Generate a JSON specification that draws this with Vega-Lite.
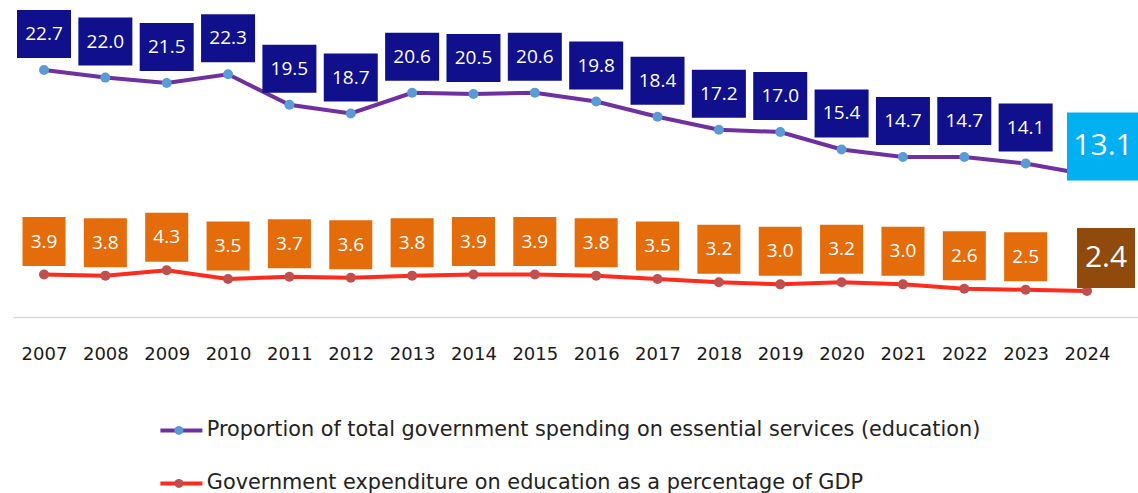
{
  "$schema": "https://vega.github.io/schema/vega-lite/v6.json",
  "width": 1125,
  "height": 317,
  "padding": {"left": 13, "top": 0, "right": 0, "bottom": 0},
  "background": "white",
  "config": {"view": {"stroke": null}, "font": "Open Sans"},
  "datasets": {
    "d": [
      {"year": 2007, "series": "Proportion of total government spending on essential services (education)", "value": 22.7},
      {"year": 2008, "series": "Proportion of total government spending on essential services (education)", "value": 22.0},
      {"year": 2009, "series": "Proportion of total government spending on essential services (education)", "value": 21.5},
      {"year": 2010, "series": "Proportion of total government spending on essential services (education)", "value": 22.3},
      {"year": 2011, "series": "Proportion of total government spending on essential services (education)", "value": 19.5},
      {"year": 2012, "series": "Proportion of total government spending on essential services (education)", "value": 18.7},
      {"year": 2013, "series": "Proportion of total government spending on essential services (education)", "value": 20.6},
      {"year": 2014, "series": "Proportion of total government spending on essential services (education)", "value": 20.5},
      {"year": 2015, "series": "Proportion of total government spending on essential services (education)", "value": 20.6},
      {"year": 2016, "series": "Proportion of total government spending on essential services (education)", "value": 19.8},
      {"year": 2017, "series": "Proportion of total government spending on essential services (education)", "value": 18.4},
      {"year": 2018, "series": "Proportion of total government spending on essential services (education)", "value": 17.2},
      {"year": 2019, "series": "Proportion of total government spending on essential services (education)", "value": 17.0},
      {"year": 2020, "series": "Proportion of total government spending on essential services (education)", "value": 15.4},
      {"year": 2021, "series": "Proportion of total government spending on essential services (education)", "value": 14.7},
      {"year": 2022, "series": "Proportion of total government spending on essential services (education)", "value": 14.7},
      {"year": 2023, "series": "Proportion of total government spending on essential services (education)", "value": 14.1},
      {"year": 2024, "series": "Proportion of total government spending on essential services (education)", "value": 13.1},
      {"year": 2007, "series": "Government expenditure on education as a percentage of GDP", "value": 3.9},
      {"year": 2008, "series": "Government expenditure on education as a percentage of GDP", "value": 3.8},
      {"year": 2009, "series": "Government expenditure on education as a percentage of GDP", "value": 4.3},
      {"year": 2010, "series": "Government expenditure on education as a percentage of GDP", "value": 3.5},
      {"year": 2011, "series": "Government expenditure on education as a percentage of GDP", "value": 3.7},
      {"year": 2012, "series": "Government expenditure on education as a percentage of GDP", "value": 3.6},
      {"year": 2013, "series": "Government expenditure on education as a percentage of GDP", "value": 3.8},
      {"year": 2014, "series": "Government expenditure on education as a percentage of GDP", "value": 3.9},
      {"year": 2015, "series": "Government expenditure on education as a percentage of GDP", "value": 3.9},
      {"year": 2016, "series": "Government expenditure on education as a percentage of GDP", "value": 3.8},
      {"year": 2017, "series": "Government expenditure on education as a percentage of GDP", "value": 3.5},
      {"year": 2018, "series": "Government expenditure on education as a percentage of GDP", "value": 3.2},
      {"year": 2019, "series": "Government expenditure on education as a percentage of GDP", "value": 3.0},
      {"year": 2020, "series": "Government expenditure on education as a percentage of GDP", "value": 3.2},
      {"year": 2021, "series": "Government expenditure on education as a percentage of GDP", "value": 3.0},
      {"year": 2022, "series": "Government expenditure on education as a percentage of GDP", "value": 2.6},
      {"year": 2023, "series": "Government expenditure on education as a percentage of GDP", "value": 2.5},
      {"year": 2024, "series": "Government expenditure on education as a percentage of GDP", "value": 2.4}
    ]
  },
  "data": {"name": "d"},
  "encoding": {
    "x": {
      "field": "year",
      "type": "quantitative",
      "scale": {"domain": [2006.4947, 2024.8313], "nice": false, "zero": false},
      "axis": {
        "title": null,
        "values": [2007, 2008, 2009, 2010, 2011, 2012, 2013, 2014, 2015, 2016, 2017, 2018, 2019, 2020, 2021, 2022, 2023, 2024],
        "format": "d",
        "grid": false,
        "ticks": false,
        "domainColor": "#d9d9d9",
        "domainWidth": 1.5,
        "labelFontSize": 18,
        "labelColor": "#1a1a1a",
        "labelPadding": 28,
        "labelFont": "DejaVu Sans"
      }
    },
    "y": {
      "field": "value",
      "type": "quantitative",
      "scale": {"domain": [0, 29.13], "nice": false, "zero": false},
      "axis": null
    }
  },
  "layer": [
    {
      "mark": {"type": "line", "strokeWidth": 4},
      "encoding": {
        "stroke": {
          "field": "series",
          "type": "nominal",
          "scale": {
            "domain": ["Proportion of total government spending on essential services (education)", "Government expenditure on education as a percentage of GDP"],
            "range": ["#7030a0", "#ff2b1c"]
          },
          "legend": {
            "title": null, "orient": "none", "legendX": 158, "legendY": 420, "direction": "vertical",
            "symbolType": "M-3,0H3",
            "symbolSize": 196, "symbolStrokeWidth": 4, "labelFontSize": 20.8, "labelColor": "#222222",
            "labelOffset": 15, "rowPadding": 31, "padding": 0, "labelLimit": 1000, "labelFont": "DejaVu Sans"
          }
        }
      }
    },
    {
      "mark": {"type": "point", "filled": true, "opacity": 1, "size": 100, "shape": "circle", "strokeWidth": 0},
      "encoding": {
        "fill": {
          "field": "series",
          "type": "nominal",
          "sort": "descending",
          "scale": {"range": ["#5b9bd5", "#c0504d"]},
          "legend": {
            "title": null, "orient": "none", "legendX": 155.5, "legendY": 420, "direction": "vertical",
            "symbolType": "circle", "labelExpr": "''",
            "symbolSize": 81, "symbolStrokeWidth": 0, "labelFontSize": 20.8, "labelOpacity": 0,
            "labelOffset": 10, "rowPadding": 31, "padding": 0, "labelLimit": 1000, "labelFont": "DejaVu Sans"
          }
        }
      }
    },
    {
      "transform": [{"filter": "datum.series[0] == 'P' && datum.year < 2024"}],
      "mark": {"type": "point", "filled": true, "opacity": 1, "fill": "#10108c", "strokeWidth": 0, "size": 2916, "shape": "M-1,-0.889H1V0.889H-1Z", "yOffset": -36}
    },
    {
      "transform": [{"filter": "datum.series[0] == 'P' && datum.year < 2024"}],
      "mark": {"type": "text", "color": "white", "fontSize": 19, "baseline": "middle", "align": "center", "yOffset": -36, "font": "Open Sans"},
      "encoding": {"text": {"field": "value", "type": "quantitative", "format": ".1f"}}
    },
    {
      "transform": [{"filter": "datum.series[0] == 'G' && datum.year < 2024"}],
      "mark": {"type": "point", "filled": true, "opacity": 1, "fill": "#e46c0a", "strokeWidth": 0, "size": 2401, "shape": "M-0.878,-1H0.878V1H-0.878Z", "yOffset": -33}
    },
    {
      "transform": [{"filter": "datum.series[0] == 'G' && datum.year < 2024"}],
      "mark": {"type": "text", "color": "white", "fontSize": 19, "baseline": "middle", "align": "center", "yOffset": -33, "font": "Open Sans"},
      "encoding": {"text": {"field": "value", "type": "quantitative", "format": ".1f"}}
    },
    {
      "transform": [{"filter": "datum.series[0] == 'P' && datum.year == 2024"}],
      "mark": {"type": "point", "filled": true, "opacity": 1, "fill": "#00b0f0", "strokeWidth": 0, "size": 5184, "shape": "M-1,-0.944H1V0.944H-1Z", "xOffset": 16, "yOffset": -28}
    },
    {
      "transform": [{"filter": "datum.series[0] == 'P' && datum.year == 2024"}],
      "mark": {"type": "text", "color": "white", "fontSize": 30, "baseline": "middle", "align": "center", "xOffset": 16, "yOffset": -28, "font": "Open Sans"},
      "encoding": {"text": {"field": "value", "type": "quantitative", "format": ".1f"}}
    },
    {
      "transform": [{"filter": "datum.series[0] == 'G' && datum.year == 2024"}],
      "mark": {"type": "point", "filled": true, "opacity": 1, "fill": "#8f4a0c", "strokeWidth": 0, "size": 3600, "shape": "M-0.967,-1H0.967V1H-0.967Z", "xOffset": 19, "yOffset": -33}
    },
    {
      "transform": [{"filter": "datum.series[0] == 'G' && datum.year == 2024"}],
      "mark": {"type": "text", "color": "white", "fontSize": 30, "baseline": "middle", "align": "center", "xOffset": 19, "yOffset": -33, "font": "Open Sans"},
      "encoding": {"text": {"field": "value", "type": "quantitative", "format": ".1f"}}
    }
  ]
}
